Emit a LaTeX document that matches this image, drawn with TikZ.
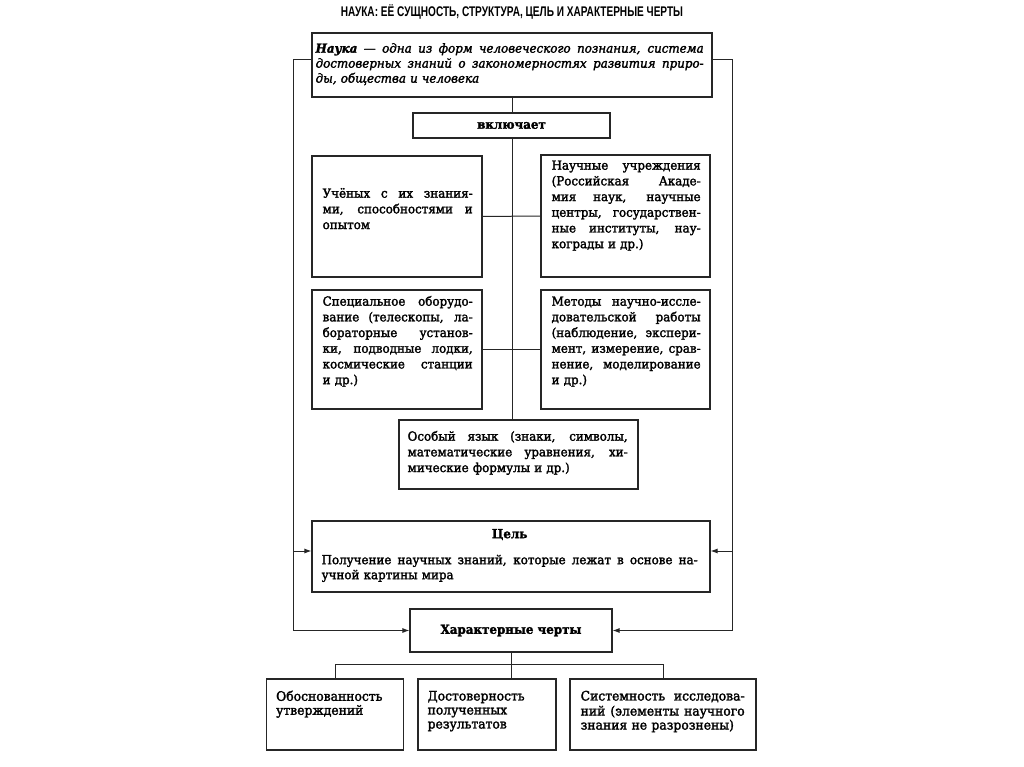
\documentclass[tikz,border=0pt]{standalone}
\usepackage{fontspec}
\setmainfont{DejaVu Serif}[FakeStretch=0.95,FakeBold=2]
\newfontfamily\titlefont{Liberation Sans}[FakeStretch=0.72]
\usetikzlibrary{arrows.meta}
\newdimen\jw
\newcommand\jl[1]{{\spaceskip=.3em plus 1fil minus .05em\relax\makebox[\jw][s]{#1}}}
\begin{document}
\begin{tikzpicture}[x=1pt,y=-1pt,
  box/.style={draw=black!85, line width=1.1pt, inner sep=0pt},
  body/.style={font=\fontsize{12.5}{15.7}\selectfont, align=left, inner sep=0pt, anchor=north west},
  tw/.style={text width=#1, execute at begin node={\jw=#1\relax}},
  ln/.style={draw=black!85, line width=1pt},
  arr/.style={ln, -{Latex[length=7pt,width=5pt]}}]
\useasboundingbox[fill=white] (0,0) rectangle (1024,767);

\node[font=\titlefont\bfseries\fontsize{14}{15}\selectfont] (title) at (512,12) {НАУКА: ЕЁ СУЩНОСТЬ, СТРУКТУРА, ЦЕЛЬ И ХАРАКТЕРНЫЕ ЧЕРТЫ};

% boxes
\node[box, minimum width=400pt, minimum height=64pt] (top) at (512,65) {};
\node[box, minimum width=197pt, minimum height=25pt, font=\fontsize{12.5}{14}\selectfont\bfseries] (incl) at (511.5,125.5) {включает};
\node[box, minimum width=170pt, minimum height=121pt] (uch) at (397,216.5) {};
\node[box, minimum width=169pt, minimum height=122pt] (nauch) at (625.5,216) {};
\node[box, minimum width=170pt, minimum height=119pt] (spec) at (397,349.5) {};
\node[box, minimum width=169pt, minimum height=119pt] (metod) at (625.5,349.5) {};
\node[box, minimum width=239pt, minimum height=69pt] (osob) at (518.5,454.5) {};
\node[box, minimum width=398pt, minimum height=71pt] (cel) at (511,556.5) {};
\node[box, minimum width=202pt, minimum height=43pt, font=\fontsize{12.5}{14}\selectfont\bfseries] (har) at (511,630.5) {Характерные черты};
\node[box, minimum width=137pt, minimum height=71pt] (b1) at (335,714.5) {};
\node[box, minimum width=138pt, minimum height=71pt] (b2) at (487,714.5) {};
\node[box, minimum width=186pt, minimum height=71pt] (b3) at (663,714.5) {};

% texts
\node[body, tw=388pt, font=\fontsize{12.5}{15}\selectfont\itshape] (topt) at ([shift={(4,9.5)}]top.north west)
 {\strut\jl{\textbf{Наука} — одна из форм человеческого познания, система}\\
  \jl{достоверных знаний о закономерностях развития приро-}\\
  ды, общества и человека};
\node[body, tw=150pt] (ucht) at ([shift={(11,31)}]uch.north west)
 {\strut\jl{Учёных с их знания-}\\ \jl{ми, способностями и}\\ опытом};
\node[body, tw=149pt] (naucht) at ([shift={(11,4)}]nauch.north west)
 {\strut\jl{Научные учреждения}\\ \jl{(Российская Акаде-}\\ \jl{мия наук, научные}\\ \jl{центры, государствен-}\\ \jl{ные институты, нау-}\\ кограды и~др.)};
\node[body, tw=150pt] (spect) at ([shift={(11,5)}]spec.north west)
 {\strut\jl{Специальное оборудо-}\\ \jl{вание (телескопы, ла-}\\ \jl{бораторные установ-}\\ \jl{ки, подводные лодки,}\\ \jl{космические станции}\\ и~др.)};
\node[body, tw=149pt] (metodt) at ([shift={(11,5)}]metod.north west)
 {\strut\jl{Методы научно-иссле-}\\ \jl{довательской работы}\\ \jl{(наблюдение, экспери-}\\ \jl{мент, измерение, срав-}\\ \jl{нение, моделирование}\\ и~др.)};
\node[body, tw=220pt] (osobt) at ([shift={(9,10)}]osob.north west)
 {\strut\jl{Особый язык (знаки, символы,}\\ \jl{математические уравнения, хи-}\\ мические формулы и~др.)};
\node[body, tw=376pt, font=\fontsize{12.5}{15}\selectfont] (celt) at ([shift={(10,7)}]cel.north west)
 {\strut\makebox[\jw]{\bfseries Цель}\\[11pt]
  \jl{Получение научных знаний, которые лежат в основе на-}\\ учной картины мира};
\node[body, tw=120pt, font=\fontsize{13}{14}\selectfont] (b1t) at ([shift={(10,12)}]b1.north west)
 {\strut Обоснованность\\ утверждений};
\node[body, tw=120pt, font=\fontsize{13}{14}\selectfont] (b2t) at ([shift={(10,12)}]b2.north west)
 {\strut Достоверность\\ полученных\\ результатов};
\node[body, tw=164pt, font=\fontsize{13}{14}\selectfont] (b3t) at ([shift={(11,12)}]b3.north west)
 {\strut\jl{Системность исследова-}\\ \jl{ний (элементы научного}\\ знания не разрознены)};

% connectors
\coordinate (LT) at (293,60);
\coordinate (RT) at (732,60);
\coordinate (CL) at (293,551);
\coordinate (CR) at (732,551);
\coordinate (HB) at (512,664);

\draw[ln] (top.south) -- (top.south |- incl.north);
\draw[ln] (incl.south -| top.south) -- (top.south |- osob.north);
\draw[ln] (uch.east) -- (nauch.west);
\draw[ln] (spec.east) -- (metod.west);

\draw[arr] (top.west |- LT) -- (LT) |- (har.west);
\draw[arr] (top.east |- RT) -- (RT) |- (har.east);
\draw[arr] (CL) -- (cel.west |- CL);
\draw[arr] (CR) -- (cel.east |- CR);

\draw[ln] (har.south) -- (har.south |- b2.north);
\draw[ln] (b1.north |- HB) -- (b3.north |- HB);
\draw[ln] (b1.north |- HB) -- (b1.north);
\draw[ln] (b3.north |- HB) -- (b3.north);
\end{tikzpicture}
\end{document}
